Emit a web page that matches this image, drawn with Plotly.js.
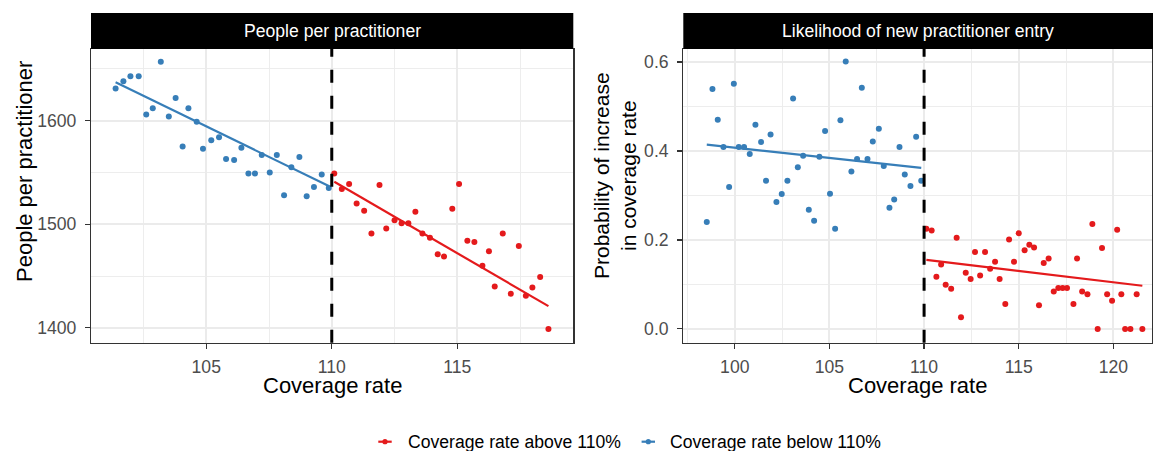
<!DOCTYPE html>
<html>
<head>
<meta charset="utf-8">
<script src="https://cdn.plot.ly/plotly-3.0.1.min.js"></script>
<style>
  html, body { margin: 0; padding: 0; background: #fff; width: 1153px; height: 451px; overflow: hidden; }
  #chart { width: 1153px; height: 451px; overflow: hidden; }
</style>
</head>
<body>
<div id="chart"></div>
<script>
// cutoff between the two groups
var cutoff = 110;

// left panel: people per practitioner
var peopleBelowX = [101.39,101.70,101.98,102.31,102.61,102.87,103.19,103.51,103.78,104.06,
  104.29,104.62,104.87,105.20,105.51,105.79,106.11,106.40,106.68,106.94,
  107.21,107.53,107.81,108.10,108.39,108.71,109.00,109.29,109.60,109.88];
var peopleBelowY = [1631,1638,1643,1643,1606,1612,1657,1604,1622,1575,
  1612,1599,1573,1581,1584,1563,1562,1574,1549,1549,
  1567,1550,1567,1528,1555,1565,1527,1536,1548,1535];
var peopleAboveX = [110.10,110.40,110.69,110.99,111.29,111.58,111.90,112.17,112.50,112.78,
  113.05,113.33,113.61,113.91,114.22,114.47,114.80,115.07,115.40,115.68,
  116.00,116.26,116.49,116.81,117.13,117.45,117.73,117.99,118.30,118.63];
var peopleAboveY = [1549,1534,1539,1520,1513,1491,1538,1496,1504,1501,
  1501,1512,1491,1487,1471,1469,1515,1539,1484,1483,
  1460,1474,1440,1491,1433,1479,1431,1439,1449,1399];
// fitted lines (end points)
var peopleFitBelowX = [101.39, 109.88];
var peopleFitBelowY = [1637, 1537];
var peopleFitAboveX = [110.10, 118.63];
var peopleFitAboveY = [1541, 1421];

// right panel: likelihood of new practitioner entry
var entryBelowX = [98.52,98.82,99.10,99.40,99.70,99.95,100.21,100.49,100.79,101.09,
  101.39,101.65,101.89,102.20,102.48,102.78,103.08,103.33,103.61,103.91,
  104.19,104.47,104.77,105.03,105.30,105.58,105.86,106.16,106.46,106.71,
  107.01,107.29,107.61,107.87,108.17,108.42,108.70,108.98,109.28,109.58,109.85];
var entryBelowY = [0.240,0.539,0.470,0.409,0.319,0.551,0.409,0.409,0.393,0.459,
  0.420,0.333,0.437,0.285,0.303,0.333,0.518,0.363,0.389,0.268,
  0.243,0.387,0.445,0.304,0.225,0.469,0.601,0.354,0.382,0.542,
  0.382,0.421,0.450,0.366,0.272,0.291,0.409,0.347,0.321,0.432,0.333];
var entryAboveX = [110.12,110.40,110.65,110.90,111.14,111.43,111.72,111.95,112.20,112.46,
  112.69,112.96,113.22,113.49,113.75,113.99,114.29,114.49,114.75,115.00,
  115.31,115.56,115.81,116.07,116.32,116.58,116.85,117.09,117.32,117.55,
  117.89,118.08,118.35,118.63,118.89,119.17,119.40,119.67,119.93,120.20,
  120.42,120.62,120.90,121.23,121.53];
var entryAboveY = [0.225,0.221,0.117,0.145,0.099,0.090,0.205,0.026,0.126,0.112,
  0.173,0.120,0.173,0.135,0.151,0.112,0.056,0.201,0.151,0.215,
  0.177,0.189,0.183,0.053,0.148,0.158,0.084,0.092,0.092,0.092,
  0.056,0.158,0.084,0.078,0.236,0.000,0.182,0.078,0.063,0.223,
  0.078,0.000,0.000,0.078,0.000];
var entryFitBelowX = [98.52, 109.85];
var entryFitBelowY = [0.414, 0.362];
var entryFitAboveX = [110.12, 121.53];
var entryFitAboveY = [0.155, 0.097];

var groupNames = ['Coverage rate above 110%', 'Coverage rate below 110%'];
var red = '#E41A1C';
var blue = '#377EB8';

var W = 1153, H = 451;
function px(x) { return x / W; }
function py(y) { return (H - y) / H; }

var font = 'Liberation Sans, Arial, sans-serif';

function pts(x, y, color, xa, ya) {
  return {type: 'scatter', mode: 'markers', x: x, y: y, xaxis: xa, yaxis: ya,
    marker: {color: color, size: 6}, showlegend: false, hoverinfo: 'x+y'};
}
function fit(x, y, color, xa, ya) {
  return {type: 'scatter', mode: 'lines', x: x, y: y, xaxis: xa, yaxis: ya,
    line: {color: color, width: 2.2}, showlegend: false, hoverinfo: 'skip'};
}

var data = [
  pts(peopleBelowX, peopleBelowY, blue, 'x', 'y'),
  pts(peopleAboveX, peopleAboveY, red, 'x', 'y'),
  fit(peopleFitBelowX, peopleFitBelowY, blue, 'x', 'y'),
  fit(peopleFitAboveX, peopleFitAboveY, red, 'x', 'y'),
  pts(entryBelowX, entryBelowY, blue, 'x2', 'y2'),
  pts(entryAboveX, entryAboveY, red, 'x2', 'y2'),
  fit(entryFitBelowX, entryFitBelowY, blue, 'x2', 'y2'),
  fit(entryFitAboveX, entryFitAboveY, red, 'x2', 'y2')
];

function axis(domain, range, dtick, minorTick, anchor, isY) {
  return {
    domain: domain, range: range, anchor: anchor,
    dtick: dtick, tick0: 0,
    showgrid: true, gridcolor: '#EBEBEB', gridwidth: 1.9,
    minor: {dtick: minorTick, tick0: 0, showgrid: true, gridcolor: '#EBEBEB', gridwidth: 0.9, ticks: ''},
    zeroline: false,
    showline: true, linecolor: '#333333', linewidth: 1.2, mirror: true,
    ticks: 'outside', ticklen: 5, tickwidth: 1.2, tickcolor: '#333333',
    ticklabelstandoff: isY ? 5 : 3,
    tickfont: {family: font, size: 17.6, color: '#4D4D4D'},
    fixedrange: true
  };
}

var yDom = [py(342.7), py(49)];
var leftDom = [px(91), px(573.3)];
var rightDom = [px(683.3), px(1152)];

function label(text, x, y, size, color, angle, anchor) {
  return {text: text, xref: 'paper', yref: 'paper', x: px(x), y: py(y),
    xanchor: anchor || 'center', yanchor: 'middle', textangle: angle || 0, showarrow: false,
    font: {family: font, size: size, color: color}};
}

// legend keys drawn below the panels (a plotly legend there would push the bottom margin)
var legendY = 441.7;
var legendKeys = [
  {name: groupNames[0], color: red, key: 385, text: 405.7},
  {name: groupNames[1], color: blue, key: 648.3, text: 668.3}
];
var legendShapes = [];
var legendLabels = [];
legendKeys.forEach(function (k) {
  legendShapes.push({type: 'line', xref: 'paper', yref: 'paper',
    x0: px(k.key - 6.7), x1: px(k.key + 6.7), y0: py(legendY), y1: py(legendY),
    line: {color: k.color, width: 2.2}});
  legendShapes.push({type: 'circle', xref: 'paper', yref: 'paper',
    x0: px(k.key - 2.6), x1: px(k.key + 2.6), y0: py(legendY + 2.6), y1: py(legendY - 2.6),
    fillcolor: k.color, line: {width: 0}});
  legendLabels.push(label(k.name, k.text, legendY, 17.6, '#000', 0, 'left'));
});

var layout = {
  width: W, height: H,
  margin: {l: 0, r: 0, t: 0, b: 0},
  paper_bgcolor: '#fff', plot_bgcolor: '#fff',
  font: {family: font},
  xaxis: axis(leftDom, [100.41, 119.62], 5, 2.5, 'y'),
  yaxis: axis(yDom, [1385.7, 1669.2], 100, 50, 'x', true),
  xaxis2: axis(rightDom, [97.28, 122.04], 5, 2.5, 'y2'),
  yaxis2: Object.assign(axis(yDom, [-0.031, 0.629], 0.2, 0.1, 'x2', true), {tickformat: '.1f'}),
  showlegend: false,
  shapes: [
    {type: 'rect', xref: 'paper', yref: 'paper', x0: leftDom[0], x1: leftDom[1], y0: py(49), y1: py(13),
      fillcolor: '#000', line: {width: 0}},
    {type: 'rect', xref: 'paper', yref: 'paper', x0: rightDom[0], x1: px(1153), y0: py(49), y1: py(13),
      fillcolor: '#000', line: {width: 0}},
    {type: 'line', xref: 'x', yref: 'y domain', x0: cutoff, x1: cutoff, y0: 0, y1: 1,
      line: {color: '#000', width: 3, dash: '13px,13px'}},
    {type: 'line', xref: 'x2', yref: 'y2 domain', x0: cutoff, x1: cutoff, y0: 0, y1: 1,
      line: {color: '#000', width: 3, dash: '13px,13px'}}
  ].concat(legendShapes),
  annotations: [
    label('People per practitioner', 332, 31, 17.6, '#fff'),
    label('Likelihood of new practitioner entry', 917.7, 31, 17.6, '#fff'),
    label('Coverage rate', 332, 385, 22, '#000'),
    label('Coverage rate', 917.7, 385, 22, '#000'),
    label('People per practitioner', 24, 172, 22, '#000', -90),
    label('Probability of increase<br>in coverage rate', 615, 176, 21, '#000', -90)
  ].concat(legendLabels)
};

Plotly.newPlot('chart', data, layout, {displayModeBar: false, staticPlot: true});
</script>
</body>
</html>
